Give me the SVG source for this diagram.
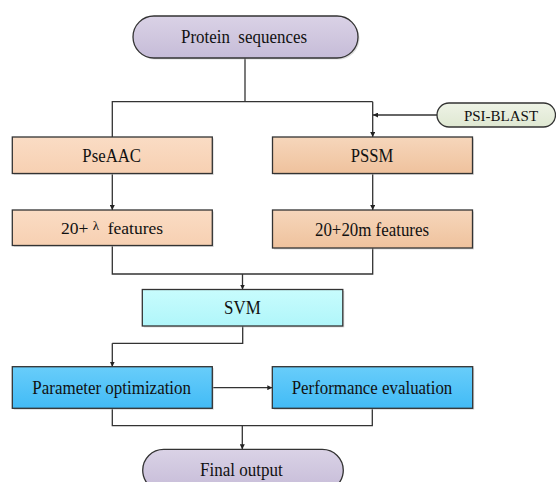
<svg xmlns="http://www.w3.org/2000/svg" width="556" height="482" viewBox="0 0 556 482">
<defs>
<linearGradient id="gLav" x1="0" y1="0" x2="0" y2="1"><stop offset="0" stop-color="#dad2e6"/><stop offset="1" stop-color="#c6bcd8"/></linearGradient>
<linearGradient id="gPeach1" x1="0" y1="0" x2="0" y2="1"><stop offset="0" stop-color="#fadcc4"/><stop offset="1" stop-color="#f7d0b2"/></linearGradient>
<linearGradient id="gPeach2" x1="0" y1="0" x2="0" y2="1"><stop offset="0" stop-color="#f6d6bb"/><stop offset="1" stop-color="#efc29d"/></linearGradient>
<linearGradient id="gCyan" x1="0" y1="0" x2="0" y2="1"><stop offset="0" stop-color="#c8fcfd"/><stop offset="1" stop-color="#b0f6fa"/></linearGradient>
<linearGradient id="gBlue" x1="0" y1="0" x2="0" y2="1"><stop offset="0" stop-color="#68cdfa"/><stop offset="1" stop-color="#42bbf6"/></linearGradient>
<linearGradient id="gGreen" x1="0" y1="0" x2="0" y2="1"><stop offset="0" stop-color="#eef3e6"/><stop offset="1" stop-color="#dfe8d2"/></linearGradient>
<marker id="arr" viewBox="0 0 6 6" refX="6" refY="3" markerWidth="5" markerHeight="5" orient="auto" markerUnits="userSpaceOnUse"><path d="M0,0 L6,3 L0,6 z" fill="#222"/></marker>
</defs>
<style>
.box{stroke:#333;stroke-width:1.3}
.shadow{fill:#bbb;opacity:0.5}
.t{font-family:"Liberation Serif","Times New Roman",serif;font-size:18.5px;fill:#111;text-anchor:middle}
.c{fill:none;stroke:#333;stroke-width:1.3}
.ca{fill:none;stroke:#333;stroke-width:1.3;marker-end:url(#arr)}
</style>

<g id="connectors">
<path class="c" d="M245 58 V101.7"/>
<path class="c" d="M112.3 137 V101.7 H372.7"/>
<path class="ca" d="M372.7 101.7 V137"/>
<path class="ca" d="M437 115 H373"/>
<path class="ca" d="M112.3 173.3 V210"/>
<path class="ca" d="M372.7 173.3 V210"/>
<path class="c" d="M112.3 245.5 V274 H372.7 V248"/>
<path class="ca" d="M242.5 274 V289.5"/>
<path class="c" d="M242.7 325.8 V343.3 H112.3"/>
<path class="ca" d="M112.3 343.3 V366.7"/>
<path class="ca" d="M212.3 387.7 H272.3"/>
<path class="c" d="M112.3 408.3 V425.7 H372.3 V408.3"/>
<path class="ca" d="M242.3 425.7 V449.3"/>
</g>

<g id="protein">
<rect class="shadow" x="134.5" y="17.5" width="225" height="42" rx="21"/>
<rect class="box" x="133" y="16" width="225" height="42" rx="21" fill="url(#gLav)"/>
<text class="t" x="244" y="43" xml:space="preserve" textLength="126" lengthAdjust="spacingAndGlyphs">Protein  sequences</text>
</g>

<g id="psiblast">
<rect class="box" x="437" y="103" width="118.5" height="24" rx="12" fill="url(#gGreen)"/>
<text class="t" x="501" y="120.5" style="font-size:15px">PSI-BLAST</text>
</g>

<g id="pseaac">
<rect class="shadow" x="13.8" y="138.5" width="200" height="36.5"/>
<rect class="box" x="12.3" y="137" width="200" height="36.5" fill="url(#gPeach1)"/>
<text class="t" x="111.7" y="162.3" textLength="58.7" lengthAdjust="spacingAndGlyphs">PseAAC</text>
</g>

<g id="pssm">
<rect class="shadow" x="274" y="138.5" width="200" height="36.5"/>
<rect class="box" x="272.5" y="137" width="200" height="36.5" fill="url(#gPeach2)"/>
<text class="t" x="372" y="162" textLength="42.6" lengthAdjust="spacingAndGlyphs">PSSM</text>
</g>

<g id="feat-lambda">
<rect class="shadow" x="13.8" y="211.5" width="200" height="35.5"/>
<rect class="box" x="12.3" y="210" width="200" height="35.5" fill="url(#gPeach1)"/>
<text class="t" x="112" y="233.5" style="font-size:17.5px" xml:space="preserve">20+ <tspan style="font-size:13px" dy="-4">λ</tspan><tspan dy="4">  features</tspan></text>
</g>

<g id="feat-pssm">
<rect class="shadow" x="274" y="211.5" width="200" height="38"/>
<rect class="box" x="272.5" y="210" width="200" height="38" fill="url(#gPeach2)"/>
<text class="t" x="372" y="236" style="font-size:19.5px" textLength="114" lengthAdjust="spacingAndGlyphs">20+20m features</text>
</g>

<g id="svm">
<rect class="shadow" x="143.8" y="291" width="200.5" height="36.5"/>
<rect class="box" x="142.3" y="289.5" width="200.5" height="36.5" fill="url(#gCyan)"/>
<text class="t" x="242.4" y="313.5" textLength="36.7" lengthAdjust="spacingAndGlyphs">SVM</text>
</g>

<g id="param">
<rect class="shadow" x="13.8" y="368.2" width="200" height="41.6"/>
<rect class="box" x="12.3" y="366.7" width="200" height="41.6" fill="url(#gBlue)"/>
<text class="t" x="111.7" y="393.5" textLength="158.7" lengthAdjust="spacingAndGlyphs">Parameter optimization</text>
</g>

<g id="perf">
<rect class="shadow" x="273.8" y="368.2" width="200.4" height="41.6"/>
<rect class="box" x="272.3" y="366.7" width="200.4" height="41.6" fill="url(#gBlue)"/>
<text class="t" x="372" y="393.5" textLength="160.6" lengthAdjust="spacingAndGlyphs">Performance evaluation</text>
</g>

<g id="final">
<rect class="box" x="142.7" y="449.3" width="200.6" height="42" rx="21" fill="url(#gLav)"/>
<text class="t" x="241.3" y="475.5" textLength="82.7" lengthAdjust="spacingAndGlyphs">Final output</text>
</g>
</svg>
